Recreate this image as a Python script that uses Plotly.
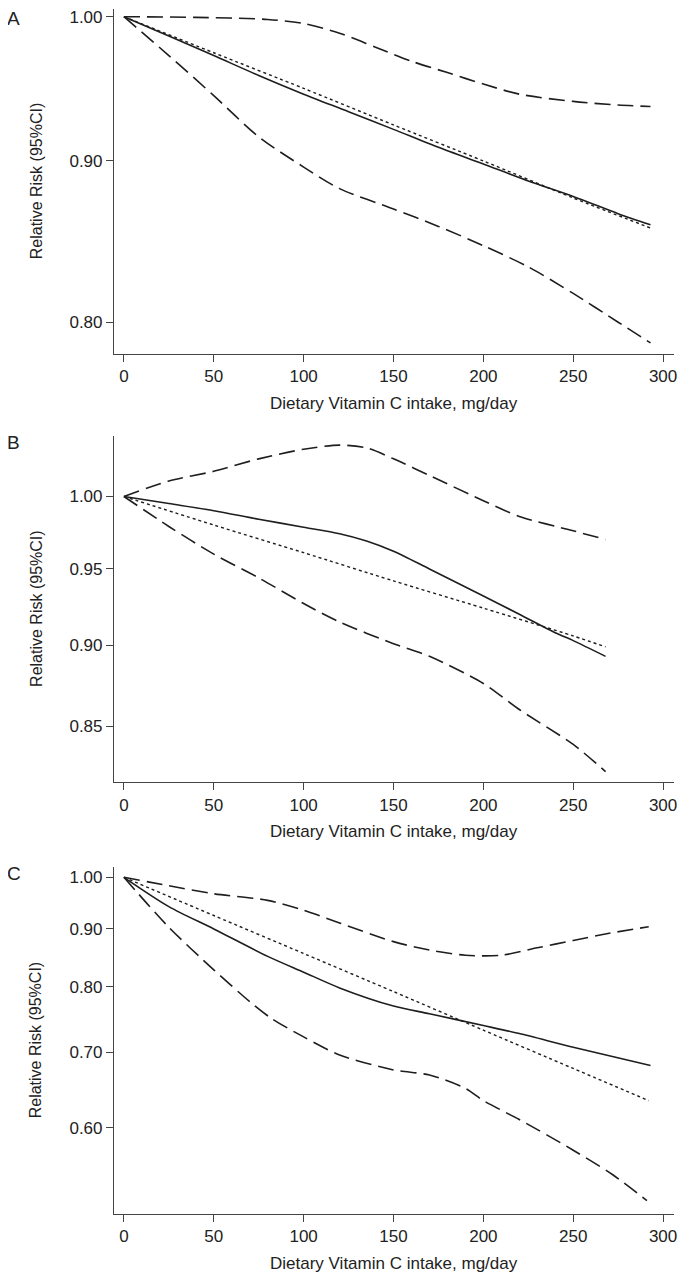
"""Dose-response curves: dietary vitamin C intake vs relative risk (three panels)."""

import plotly.graph_objects as go

# ---- panel A ----
a_solid_x = [0, 25, 50, 75, 100, 125, 150, 175, 200, 225, 250, 275, 293]
a_solid_y = [1.000, 0.986, 0.972, 0.958, 0.945, 0.933, 0.921, 0.909, 0.898, 0.887, 0.877, 0.866, 0.859]
a_linear_x = [0, 50, 100, 150, 200, 250, 293]
a_linear_y = [1.000, 0.974, 0.949, 0.924, 0.900, 0.876, 0.857]
a_upper_x = [0, 40, 80, 100, 120, 140, 160, 180, 200, 220, 250, 275, 293]
a_upper_y = [1.000, 0.9995, 0.998, 0.995, 0.988, 0.978, 0.968, 0.960, 0.952, 0.945, 0.940, 0.9375, 0.9365]
a_lower_x = [0, 25, 50, 75, 100, 120, 150, 175, 200, 225, 250, 275, 293]
a_lower_y = [1.000, 0.972, 0.944, 0.916, 0.896, 0.882, 0.869, 0.858, 0.846, 0.833, 0.817, 0.800, 0.788]

# ---- panel B ----
b_solid_x = [0, 25, 50, 75, 100, 120, 135, 150, 170, 200, 220, 240, 250, 268]
b_solid_y = [1.000, 0.995, 0.990, 0.984, 0.9785, 0.974, 0.969, 0.962, 0.950, 0.932, 0.920, 0.908, 0.903, 0.893]
b_linear_x = [0, 50, 100, 150, 200, 250, 268]
b_linear_y = [1.000, 0.980, 0.961, 0.942, 0.924, 0.906, 0.899]
b_upper_x = [0, 25, 50, 75, 100, 120, 135, 150, 170, 200, 220, 250, 268]
b_upper_y = [1.000, 1.011, 1.018, 1.027, 1.034, 1.037, 1.035, 1.027, 1.015, 0.997, 0.986, 0.976, 0.970]
b_lower_x = [0, 25, 50, 75, 100, 120, 150, 170, 200, 220, 250, 268]
b_lower_y = [1.000, 0.979, 0.960, 0.944, 0.927, 0.915, 0.901, 0.893, 0.876, 0.860, 0.839, 0.823]

# ---- panel C ----
c_solid_x = [0, 25, 50, 80, 100, 120, 150, 170, 200, 220, 250, 293]
c_solid_y = [1.000, 0.942, 0.900, 0.851, 0.824, 0.798, 0.769, 0.757, 0.739, 0.727, 0.707, 0.681]
c_linear_x = [0, 50, 100, 150, 200, 250, 292]
c_linear_y = [1.000, 0.925, 0.856, 0.792, 0.732, 0.677, 0.634]
c_upper_x = [0, 25, 50, 80, 100, 120, 150, 170, 190, 210, 230, 250, 270, 292]
c_upper_y = [1.000, 0.983, 0.967, 0.954, 0.935, 0.911, 0.877, 0.862, 0.853, 0.853, 0.866, 0.879, 0.892, 0.904]
c_lower_x = [0, 25, 50, 70, 82, 100, 120, 150, 170, 190, 200, 220, 250, 272, 291]
c_lower_y = [1.000, 0.903, 0.828, 0.776, 0.750, 0.722, 0.696, 0.675, 0.668, 0.650, 0.634, 0.610, 0.573, 0.545, 0.517]

panels = [
    ("A", [(a_solid_x, a_solid_y, "solid"), (a_linear_x, a_linear_y, "dot"),
           (a_upper_x, a_upper_y, "ci"), (a_lower_x, a_lower_y, "ci")]),
    ("B", [(b_solid_x, b_solid_y, "solid"), (b_linear_x, b_linear_y, "dot"),
           (b_upper_x, b_upper_y, "ci"), (b_lower_x, b_lower_y, "ci")]),
    ("C", [(c_solid_x, c_solid_y, "solid"), (c_linear_x, c_linear_y, "dot"),
           (c_upper_x, c_upper_y, "ci"), (c_lower_x, c_lower_y, "ci")]),
]

y_ticks = [[0.80, 0.90, 1.00], [0.85, 0.90, 0.95, 1.00], [0.60, 0.70, 0.80, 0.90, 1.00]]
x_ticks = [0, 50, 100, 150, 200, 250, 300]

# the page has the browser's default 8px body margin
PAGE_W, PAGE_H, OFF = 687, 1276, 8
W, H = PAGE_W - OFF, PAGE_H - OFF


def px(x):
    return (x - OFF) / W


def py(y):
    return 1 - (y - OFF) / H


# page-pixel geometry of each plot box: (top, bottom, x-title centre, letter y)
boxes = [(8, 353, 403, 18), (435, 782, 831, 442), (867, 1213.5, 1263, 873)]
y_ranges = [[-0.1069, 0.00244], [-0.0879, 0.0187], [-0.298, 0.00885]]
x_left, x_right = 114.5, 677

LINE = "#1e1e1e"
AXIS = "#444444"
TEXT = "#222222"
FONT = "Liberation Sans, Arial, sans-serif"
styles = {
    "solid": dict(dash="solid", width=1.6),
    "dot": dict(dash="3px,3px", width=1.4),
    "ci": dict(dash="16px,7px", width=1.6),
}

fig = go.Figure()
annotations = []
for i, (letter, curves) in enumerate(panels):
    n = "" if i == 0 else str(i + 1)
    for xs, ys, kind in curves:
        fig.add_trace(go.Scatter(
            x=xs, y=ys, mode="lines", xaxis="x" + n, yaxis="y" + n,
            line=dict(color=LINE, shape="spline", smoothing=0.8, **styles[kind]),
            showlegend=False, hoverinfo="skip",
        ))
    top, bottom, title_y, letter_y = boxes[i]
    fig.layout["xaxis" + n] = dict(
        domain=[px(x_left), px(x_right)], range=[-5.5, 306.1], anchor="y" + n,
        tickvals=x_ticks, ticks="outside", ticklen=7, ticklabeloverflow="allow",
        tickcolor=AXIS, showline=True, linecolor=AXIS, linewidth=1.2,
        showgrid=False, zeroline=False, tickfont=dict(size=17, color=TEXT),
    )
    fig.layout["yaxis" + n] = dict(
        domain=[py(bottom), py(top)], type="log", range=y_ranges[i],
        anchor="x" + n, tickvals=y_ticks[i], tickformat=".2f", ticks="outside",
        ticklen=7, ticklabeloverflow="allow",
        tickcolor=AXIS, showline=True, linecolor=AXIS, linewidth=1.2,
        showgrid=False, zeroline=False, tickfont=dict(size=17, color=TEXT),
    )
    annotations.append(dict(
        text="Dietary Vitamin C intake, mg/day", xref="paper", yref="paper",
        x=px((x_left + x_right) / 2), y=py(title_y), showarrow=False,
        font=dict(size=17, color=TEXT), xanchor="center", yanchor="middle",
    ))
    annotations.append(dict(
        text="Relative Risk (95%CI)", xref="paper", yref="paper", textangle=-90,
        x=px(36), y=py((top + bottom) / 2), showarrow=False,
        font=dict(size=16, color=TEXT), xanchor="center", yanchor="middle",
    ))
    annotations.append(dict(
        text=letter, xref="paper", yref="paper", x=px(14), y=py(letter_y),
        showarrow=False, font=dict(size=19, color=TEXT),
        xanchor="center", yanchor="middle",
    ))

fig.update_layout(
    width=W, height=H, margin=dict(l=0, r=0, t=0, b=0),
    paper_bgcolor="white", plot_bgcolor="white",
    font=dict(family=FONT, color=TEXT), annotations=annotations,
)
fig.write_html("out.html")
